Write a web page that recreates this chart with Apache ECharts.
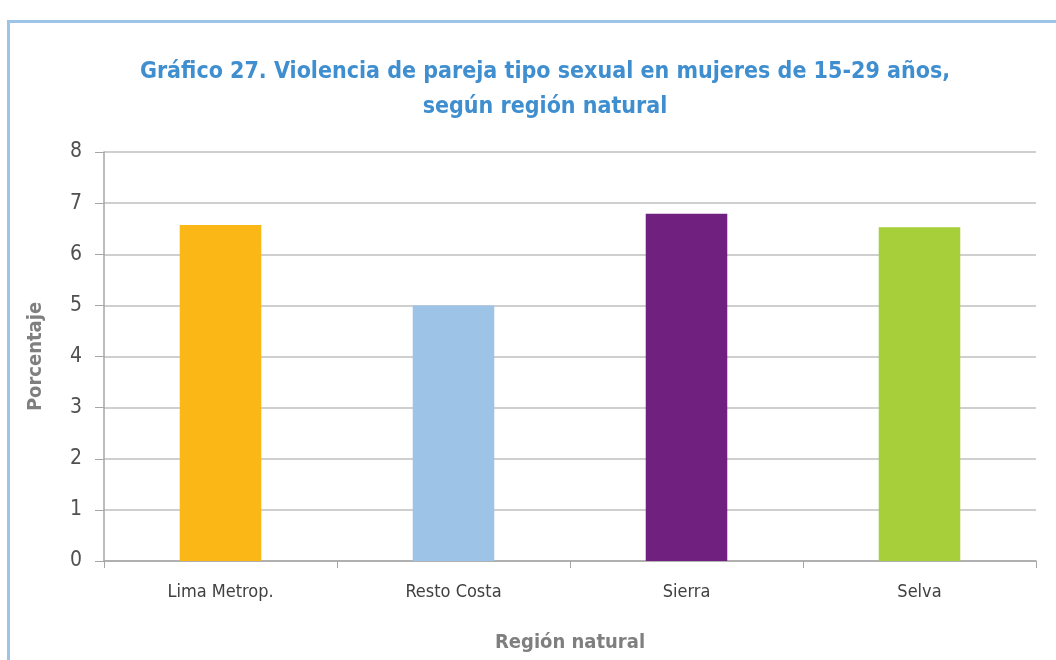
<!DOCTYPE html>
<html>
<head>
<meta charset="utf-8">
<title>Gráfico 27</title>
<script src="https://cdn.jsdelivr.net/npm/echarts@6/dist/echarts.min.js"></script>
<style type="text/css">
body{
    margin: 0;
    background: #ffffff;
}
#frame{
    position: absolute;
    left: 7px;
    top: 20px;
    width: 1100px;
    height: 700px;
    border-top: 3px solid #9dc3e6;
    border-left: 3px solid #9dc3e6;
}
#chart{
    position: absolute;
    left: 0;
    top: 0;
    width: 1056px;
    height: 660px;
}
</style>
</head>
<body>
<div id="frame"></div>
<div id="chart"></div>
<script>
// datos
var regiones = ['Lima Metrop.', 'Resto Costa', 'Sierra', 'Selva'];
var porcentajes = [6.57, 5.0, 6.79, 6.53];
var colores = ['#fbb715', '#9dc3e6', '#70217f', '#a7cf3a'];

var chart = echarts.init(document.getElementById('chart'));

var font = "'DejaVu Sans Condensed', sans-serif";

var option = {
    animation: false,
    title: {
        text: 'Gráfico 27. Violencia de pareja tipo sexual en mujeres de 15-29 años,\nsegún región natural',
        left: 540,
        textAlign: 'center',
        top: 50,
        textStyle: {
            fontFamily: font,
            fontWeight: 'bold',
            fontSize: 23,
            lineHeight: 35,
            color: '#3f8fd0'
        }
    },
    grid: {
        left: 104,
        right: 20,
        top: 152,
        bottom: 99
    },
    xAxis: {
        type: 'category',
        data: regiones,
        name: 'Región natural',
        nameLocation: 'middle',
        nameGap: 72,
        nameTextStyle: {
            fontFamily: font,
            fontWeight: 'bold',
            fontSize: 20,
            color: '#7f7f7f'
        },
        axisLine: {lineStyle: {color: '#a6a6a6', width: 1.5}},
        axisTick: {show: true, length: 7, lineStyle: {color: '#a6a6a6'}},
        axisLabel: {
            margin: 22,
            fontFamily: font,
            fontSize: 18,
            color: '#404040'
        }
    },
    yAxis: {
        type: 'value',
        min: 0,
        max: 8,
        interval: 1,
        name: 'Porcentaje',
        nameLocation: 'middle',
        nameGap: 58,
        nameTextStyle: {
            fontFamily: font,
            fontWeight: 'bold',
            fontSize: 20,
            color: '#7f7f7f'
        },
        axisLine: {show: true, lineStyle: {color: '#a6a6a6', width: 1.5}},
        axisTick: {show: true, length: 9, lineStyle: {color: '#a6a6a6'}},
        axisLabel: {
            margin: 22,
            fontFamily: font,
            fontSize: 21,
            color: '#505050'
        },
        splitLine: {lineStyle: {color: '#bfbfbf', width: 1.5}}
    },
    series: [{
        type: 'bar',
        barWidth: '35%',
        data: porcentajes.map(function(v, i){
            return {value: v, itemStyle: {color: colores[i]}};
        })
    }]
};
chart.setOption(option);
</script>
</body>
</html>
